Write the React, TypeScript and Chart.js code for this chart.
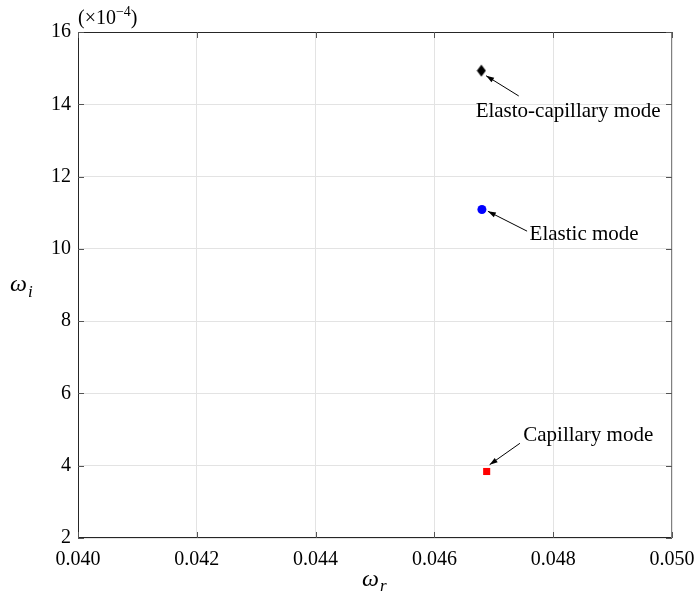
import React, { useEffect, useRef } from 'react';
import { Chart, registerables } from 'chart.js';

Chart.register(...registerables);

// ---- data ----
const modeNames = ['Elasto-capillary mode', 'Elastic mode', 'Capillary mode'];
const omegaR = [0.04679, 0.0468, 0.04688];
const omegaI = [14.93, 11.09, 3.84]; // in units of 1e-4
const markerColors = ['#000000', '#0000ff', '#ff0000'];
const labelR = [0.04825, 0.04852, 0.04859];
const labelI = [13.81, 10.4, 4.84];
const arrowTailR = [0.04742, 0.04756, 0.04744];
const arrowTailI = [14.23, 10.49, 4.62];
const arrowHeadR = [0.04687, 0.0469, 0.04693];
const arrowHeadI = [14.79, 11.04, 4.03];
const xTicks = [0.04, 0.042, 0.044, 0.046, 0.048, 0.05];
const yTicks = [2, 4, 6, 8, 10, 12, 14, 16];

const SERIF = '"Liberation Serif", "Times New Roman", serif';

function makeDiamond(color: string) {
  const c = document.createElement('canvas');
  c.width = 10;
  c.height = 13;
  const g = c.getContext('2d')!;
  g.fillStyle = color;
  g.beginPath();
  g.moveTo(5, 0.5);
  g.lineTo(9.5, 6.5);
  g.lineTo(5, 12.5);
  g.lineTo(0.5, 6.5);
  g.closePath();
  g.fill();
  return c;
}

const decorPlugin = {
  id: 'decor',
  beforeDatasetsDraw(chart: any) {
    const { ctx, chartArea: a } = chart;
    const xs = chart.scales.x;
    const ys = chart.scales.y;
    ctx.save();
    // box
    ctx.lineWidth = 1;
    ctx.strokeStyle = '#262626';
    ctx.beginPath();
    ctx.moveTo(a.left + 0.5, a.top + 0.5);
    ctx.lineTo(a.right - 0.5, a.top + 0.5);
    ctx.moveTo(a.left + 0.5, a.top);
    ctx.lineTo(a.left + 0.5, a.bottom);
    ctx.moveTo(a.left, a.bottom - 0.5);
    ctx.lineTo(a.right, a.bottom - 0.5);
    ctx.stroke();
    ctx.strokeStyle = '#808080';
    ctx.beginPath();
    ctx.moveTo(a.right - 0.5, a.top);
    ctx.lineTo(a.right - 0.5, a.bottom);
    ctx.stroke();
    // inner ticks
    ctx.strokeStyle = '#555555';
    const tl = 6;
    ctx.beginPath();
    xTicks.forEach((v) => {
      const px = Math.round(xs.getPixelForValue(v)) + 0.5;
      ctx.moveTo(px, a.bottom);
      ctx.lineTo(px, a.bottom - tl);
      ctx.moveTo(px, a.top);
      ctx.lineTo(px, a.top + tl);
    });
    yTicks.forEach((v) => {
      const py = Math.round(ys.getPixelForValue(v)) + 0.5;
      ctx.moveTo(a.left, py);
      ctx.lineTo(a.left + tl, py);
      ctx.moveTo(a.right, py);
      ctx.lineTo(a.right - tl, py);
    });
    ctx.stroke();
    ctx.restore();
  },
  afterDatasetsDraw(chart: any) {
    const { ctx, chartArea: a } = chart;
    const xs = chart.scales.x;
    const ys = chart.scales.y;
    ctx.save();
    // annotations
    ctx.fillStyle = '#000';
    ctx.strokeStyle = '#000';
    ctx.lineWidth = 1;
    ctx.font = `21px ${SERIF}`;
    ctx.textAlign = 'center';
    ctx.textBaseline = 'middle';
    modeNames.forEach((name, i) => {
      ctx.fillText(name, xs.getPixelForValue(labelR[i]), ys.getPixelForValue(labelI[i]));
      const x0 = xs.getPixelForValue(arrowTailR[i]);
      const y0 = ys.getPixelForValue(arrowTailI[i]);
      const x1 = xs.getPixelForValue(arrowHeadR[i]);
      const y1 = ys.getPixelForValue(arrowHeadI[i]);
      ctx.beginPath();
      ctx.moveTo(x0, y0);
      ctx.lineTo(x1, y1);
      ctx.stroke();
      const ang = Math.atan2(y1 - y0, x1 - x0);
      const L = 8;
      const W = 2.6;
      const bx = x1 - L * Math.cos(ang);
      const by = y1 - L * Math.sin(ang);
      ctx.beginPath();
      ctx.moveTo(x1, y1);
      ctx.lineTo(bx - W * Math.sin(ang), by + W * Math.cos(ang));
      ctx.lineTo(bx + W * Math.sin(ang), by - W * Math.cos(ang));
      ctx.closePath();
      ctx.fill();
    });
    // exponent label
    ctx.textAlign = 'left';
    ctx.textBaseline = 'alphabetic';
    ctx.font = `20px ${SERIF}`;
    let x = a.left;
    const base = a.top - 8;
    ctx.fillText('(\u00d710', x, base);
    x += ctx.measureText('(\u00d710').width;
    ctx.font = `14px ${SERIF}`;
    ctx.fillText('\u22124', x, base - 8);
    x += ctx.measureText('\u22124').width;
    ctx.font = `20px ${SERIF}`;
    ctx.fillText(')', x, base);
    // axis titles
    const my = (a.top + a.bottom) / 2;
    ctx.font = `italic 24px ${SERIF}`;
    ctx.fillText('\u03c9', 10, my + 6);
    let w = ctx.measureText('\u03c9').width;
    ctx.font = `italic 17px ${SERIF}`;
    ctx.fillText('i', 10 + w + 1, my + 12);
    const mx = (a.left + a.right) / 2;
    ctx.font = `italic 24px ${SERIF}`;
    w = ctx.measureText('\u03c9').width;
    ctx.fillText('\u03c9', mx - 13, 586);
    ctx.font = `italic 17px ${SERIF}`;
    ctx.fillText('r', mx - 13 + w + 1, 591);
    ctx.restore();
  },
};

export default function App() {
  const ref = useRef<HTMLCanvasElement | null>(null);
  useEffect(() => {
    document.body.style.margin = '0';
    const canvas = ref.current!;
    const pointStyles: any[] = [makeDiamond(markerColors[0]), 'circle', 'rect'];
    const radii = [6, 4.5, 5];
    const chart = new Chart(canvas, {
      type: 'scatter',
      data: {
        datasets: modeNames.map((name, i) => ({
          label: name,
          data: [{ x: omegaR[i], y: omegaI[i] }],
          pointStyle: pointStyles[i],
          pointRadius: radii[i],
          backgroundColor: markerColors[i],
          borderColor: markerColors[i],
          borderWidth: 0,
        })),
      },
      options: {
        animation: false,
        responsive: false,
        devicePixelRatio: 1,
        layout: { padding: { left: 0, top: 32, right: 23, bottom: 0 } },
        plugins: { legend: { display: false }, tooltip: { enabled: false } },
        scales: {
          x: {
            type: 'linear',
            min: 0.04,
            max: 0.05,
            afterBuildTicks: (s: any) => {
              s.ticks = xTicks.map((v) => ({ value: v }));
            },
            afterFit: (s: any) => {
              s.height = 57;
              s.paddingLeft = 0;
              s.paddingRight = 0;
            },
            ticks: {
              color: '#000',
              font: { family: SERIF, size: 20 },
              padding: 10,
              maxRotation: 0,
              callback: (v: any) => Number(v).toFixed(3),
            },
            grid: { color: '#e3e3e3', drawTicks: false },
            border: { display: false },
          },
          y: {
            type: 'linear',
            min: 2,
            max: 16,
            afterBuildTicks: (s: any) => {
              s.ticks = yTicks.map((v) => ({ value: v }));
            },
            afterFit: (s: any) => {
              s.width = 78;
              s.paddingTop = 0;
              s.paddingBottom = 0;
            },
            ticks: {
              color: '#000',
              font: { family: SERIF, size: 20 },
              padding: 7,
              callback: (v: any) => String(v),
            },
            grid: { color: '#e3e3e3', drawTicks: false },
            border: { display: false },
          },
        },
      },
      plugins: [decorPlugin],
    });
    return () => chart.destroy();
  }, []);
  return (
    <div style={{ position: 'absolute', left: 0, top: 0, width: 695, height: 595 }}>
      <canvas ref={ref} width={695} height={595} style={{ display: 'block', background: '#fff' }} />
    </div>
  );
}
